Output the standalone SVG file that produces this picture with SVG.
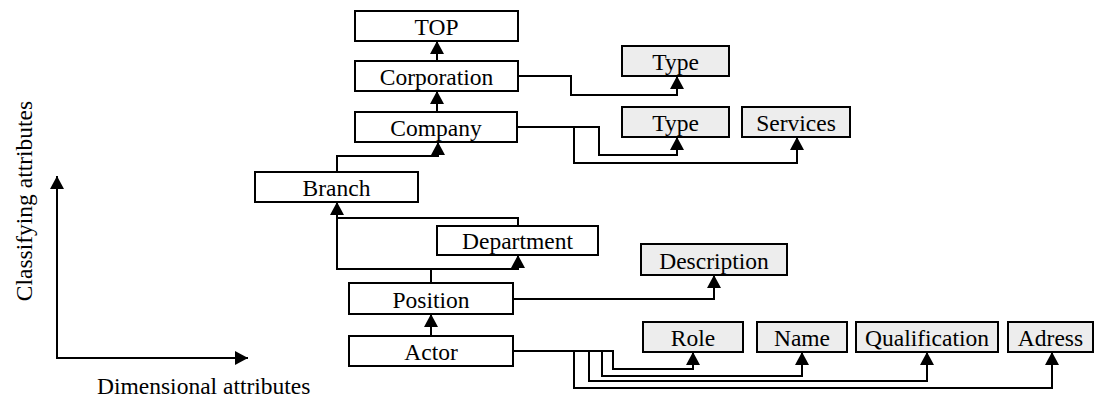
<svg xmlns="http://www.w3.org/2000/svg" width="1094" height="399" viewBox="0 0 1094 399">
<style>
.box{fill:#ffffff;stroke:#000;stroke-width:2}
.attr{fill:#ededed;stroke:#000;stroke-width:2}
text{font-family:"Liberation Serif","Times New Roman",serif;font-size:23.5px;fill:#000;text-anchor:middle}
.c{fill:none;stroke:#000;stroke-width:2}
</style>
<defs>
<marker id="ah" viewBox="0 0 13 14" refX="13" refY="7" markerWidth="13" markerHeight="14" markerUnits="userSpaceOnUse" orient="auto">
<path d="M0,0 L13,7 L0,14 z" fill="#000"/>
</marker>
</defs>
<rect width="1094" height="399" fill="#fff"/>

<g id="axes">
<line class="c" x1="56" y1="358" x2="248" y2="358" marker-end="url(#ah)"/>
<line class="c" x1="57" y1="359" x2="57" y2="176" marker-end="url(#ah)"/>
<text x="32" y="201" transform="rotate(-90 32 201)">Classifying attributes</text>
<text x="97" y="394" style="text-anchor:start">Dimensional attributes</text>
</g>

<g id="connectors">
<line class="c" x1="437" y1="61" x2="437" y2="41" marker-end="url(#ah)"/>
<line class="c" x1="437" y1="112" x2="437" y2="91" marker-end="url(#ah)"/>
<polyline class="c" points="337,172 337,156 438,156 438,142" marker-end="url(#ah)"/>
<line class="c" x1="431" y1="283" x2="431" y2="269"/>
<line class="c" x1="336" y1="269" x2="519" y2="269"/>
<line class="c" x1="337" y1="269" x2="337" y2="202" marker-end="url(#ah)"/>
<line class="c" x1="518" y1="269" x2="518" y2="255" marker-end="url(#ah)"/>
<polyline class="c" points="518,226 518,218 337,218"/>
<polyline class="c" points="513,299 714,299 714,275" marker-end="url(#ah)"/>
<line class="c" x1="431" y1="336" x2="431" y2="314" marker-end="url(#ah)"/>
<polyline class="c" points="518,76 571,76 571,95 677,95 677,76" marker-end="url(#ah)"/>
<polyline class="c" points="517,127 599,127 599,155 677,155 677,137" marker-end="url(#ah)"/>
<polyline class="c" points="574,127 574,163 797,163 797,137" marker-end="url(#ah)"/>
<polyline class="c" points="513,351 613,351 613,369 693,369 693,352" marker-end="url(#ah)"/>
<polyline class="c" points="602,351 602,376 802,376 802,352" marker-end="url(#ah)"/>
<polyline class="c" points="589,351 589,381 927,381 927,352" marker-end="url(#ah)"/>
<polyline class="c" points="574,351 574,388 1052,388 1052,352" marker-end="url(#ah)"/>
</g>

<g id="node-top"><rect class="box" x="355" y="11" width="163" height="30"/><text x="436.5" y="35">TOP</text></g>
<g id="node-corporation"><rect class="box" x="355" y="61" width="163" height="30"/><text x="436.5" y="85">Corporation</text></g>
<g id="node-company"><rect class="box" x="355" y="112" width="162" height="30"/><text x="436" y="136">Company</text></g>
<g id="node-branch"><rect class="box" x="255" y="172" width="163" height="30"/><text x="336.5" y="196">Branch</text></g>
<g id="node-department"><rect class="box" x="437" y="226" width="161" height="29"/><text x="517.5" y="249">Department</text></g>
<g id="node-position"><rect class="box" x="349" y="283" width="164" height="31"/><text x="431" y="308">Position</text></g>
<g id="node-actor"><rect class="box" x="349" y="336" width="164" height="30"/><text x="431" y="360">Actor</text></g>
<g id="node-type1"><rect class="attr" x="622" y="46" width="107" height="30"/><text x="675.5" y="70">Type</text></g>
<g id="node-type2"><rect class="attr" x="622" y="107" width="107" height="30"/><text x="675.5" y="131">Type</text></g>
<g id="node-services"><rect class="attr" x="742" y="107" width="108" height="30"/><text x="796" y="131">Services</text></g>
<g id="node-description"><rect class="attr" x="641" y="244" width="146" height="31"/><text x="714" y="269">Description</text></g>
<g id="node-role"><rect class="attr" x="643" y="322" width="100" height="30"/><text x="693" y="346">Role</text></g>
<g id="node-name"><rect class="attr" x="757" y="322" width="90" height="30"/><text x="802" y="346">Name</text></g>
<g id="node-qualification"><rect class="attr" x="856" y="322" width="142" height="30"/><text x="927" y="346">Qualification</text></g>
<g id="node-adress"><rect class="attr" x="1008" y="322" width="85" height="30"/><text x="1050.5" y="346">Adress</text></g>
</svg>
